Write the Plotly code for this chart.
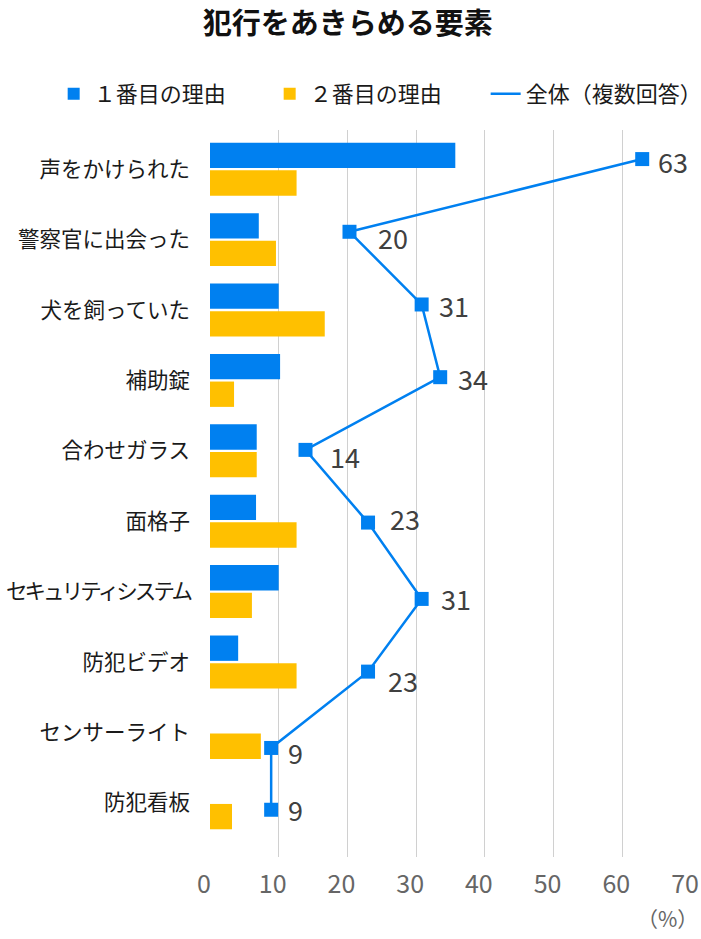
import math
import plotly.graph_objects as go

categories = ["声をかけられた", "警察官に出会った", "犬を飼っていた", "補助錠", "合わせガラス",
              "面格子", "セキュリティシステム", "防犯ビデオ", "センサーライト", "防犯看板"]
first_reason = [35.7, 7.1, 10.0, 10.2, 6.8, 6.7, 10.0, 4.1, 0, 0]
second_reason = [12.6, 9.6, 16.7, 3.5, 6.8, 12.6, 6.1, 12.6, 7.4, 3.2]
total_multi = [62.9, 20.3, 30.8, 33.5, 13.9, 23.0, 30.8, 23.0, 8.9, 8.9]
# vertical position of each 全体 point on the secondary (0-10) axis, as in the original XY series
total_pos = [9.6, 8.6, 7.6, 6.6, 5.6, 4.6, 3.55, 2.55, 1.5, 0.65]
x_ticks = [0, 10, 20, 30, 40, 50, 60, 70]

# label offsets (style only)
label_dx = [14, 27, 15, 16, 22, 20, 17, 18, 15, 15]
label_dy = [-2, -6, -1, -1, -7, 4, 0, -9, -5, 0]

BLUE = "#0080F0"
YELLOW = "#FFC000"
FONT = "Noto Sans CJK JP"

tick_text = []
for c in categories:
    if len(c) >= 10:
        tick_text.append('<span style="letter-spacing:-2.9px">' + c + '</span>')
    else:
        tick_text.append(c)

fig = go.Figure()
fig.add_trace(go.Bar(name="１番目の理由", x=first_reason, y=categories, orientation="h",
                     marker=dict(color=BLUE, line=dict(width=0)), hoverinfo="skip"))
fig.add_trace(go.Bar(name="２番目の理由", x=second_reason, y=categories, orientation="h",
                     marker=dict(color=YELLOW, line=dict(width=0)), hoverinfo="skip"))
fig.add_trace(go.Scatter(name="全体（複数回答）", x=total_multi, y=total_pos, yaxis="y2",
                         mode="lines+markers", showlegend=False,
                         line=dict(color=BLUE, width=2.5),
                         marker=dict(symbol="square", size=14, color=BLUE),
                         hoverinfo="skip"))
# legend entry for the line series (line only, as in the original legend)
fig.add_trace(go.Scatter(name="全体（複数回答）", x=[None], y=[None], yaxis="y2",
                         mode="lines", line=dict(color=BLUE, width=2.5), hoverinfo="skip"))

annotations = []
for v, p, dx, dy in zip(total_multi, total_pos, label_dx, label_dy):
    annotations.append(dict(x=v, y=p, xref="x", yref="y2", text=str(math.floor(v + 0.5)),
                            showarrow=False, xanchor="left", yanchor="middle",
                            xshift=dx, yshift=dy,
                            font=dict(family=FONT, size=27, color="#404040")))
annotations.append(dict(x=1.0, y=-0.084, xref="paper", yref="paper", text="（%）",
                        showarrow=False, xanchor="right", yanchor="middle", xshift=9,
                        font=dict(family=FONT, size=21, color="#666666")))

fig.update_layout(
    width=701, height=939,
    margin=dict(l=210, r=10, t=130, b=82, autoexpand=False),
    paper_bgcolor="white", plot_bgcolor="white",
    font=dict(family=FONT, color="#1a1a1a"),
    title=dict(text="<b>犯行をあきらめる要素</b>", x=0.496, xanchor="center",
               y=1 - 24 / 939, yanchor="middle", xref="container", yref="container",
               font=dict(family=FONT, size=29, color="#111111")),
    barmode="group", bargap=0.215, bargroupgap=0.083,
    showlegend=True,
    legend=dict(orientation="h", xref="paper", yref="paper",
                x=-0.325, xanchor="left", y=1.0495, yanchor="middle",
                entrywidth=171, entrywidthmode="pixels",
                font=dict(family=FONT, size=22, color="#1a1a1a"),
                traceorder="normal", itemclick=False, itemdoubleclick=False),
    xaxis=dict(range=[0, 70], tickvals=x_ticks, showgrid=True, gridcolor="#d0d0d0", gridwidth=1.3,
               zeroline=False, showline=False, ticks="", fixedrange=True, automargin=False,
               ticklabelstandoff=10, ticklabelshift=-6, ticklabeloverflow="allow",
               tickfont=dict(family=FONT, size=25, color="#666666")),
    yaxis=dict(type="category", categoryorder="array", categoryarray=categories,
               tickvals=categories, ticktext=tick_text, automargin=False,
               range=[9.77, -0.557], showgrid=False, zeroline=False, showline=False,
               ticks="", ticklabelstandoff=19, fixedrange=True,
               tickfont=dict(family=FONT, size=21.5, color="#1a1a1a")),
    yaxis2=dict(overlaying="y", range=[0, 10], visible=False, fixedrange=True),
    annotations=annotations,
)

fig.write_html("out.html", config={"displayModeBar": False},
               post_script="document.body.style.margin='0';document.body.style.overflow='hidden';")
